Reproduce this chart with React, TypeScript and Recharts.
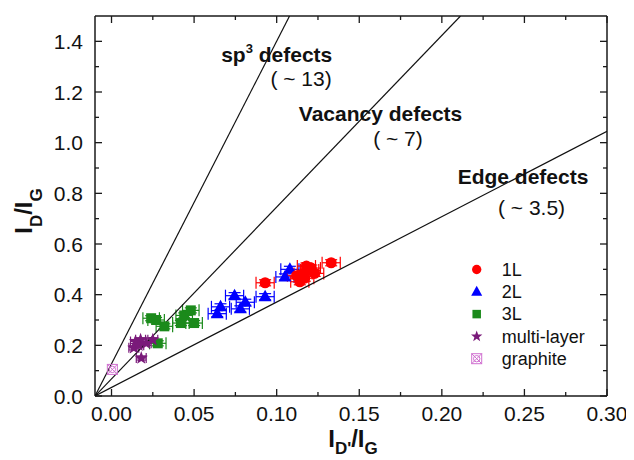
import React from 'react';
import { ScatterChart, Scatter, XAxis, YAxis, ErrorBar, Legend } from 'recharts';

const FONT = '"Liberation Sans", Arial, Helvetica, sans-serif';

// ---- data ----
const L1_X = [0.093, 0.133, 0.118, 0.12, 0.123, 0.116, 0.114, 0.112, 0.121, 0.117];
const L1_Y = [0.447, 0.526, 0.513, 0.497, 0.484, 0.484, 0.451, 0.475, 0.505, 0.465];
const L2_X = [0.108, 0.105, 0.093, 0.0745, 0.081, 0.078, 0.066, 0.064];
const L2_Y = [0.5, 0.47, 0.392, 0.396, 0.37, 0.344, 0.352, 0.325];
const L3_X = [0.024, 0.027, 0.032, 0.028, 0.042, 0.044, 0.048, 0.05];
const L3_Y = [0.307, 0.3, 0.275, 0.208, 0.288, 0.318, 0.338, 0.288];
const ML_X = [0.0145, 0.0176, 0.021, 0.025, 0.0135, 0.018, 0.0165];
const ML_Y = [0.215, 0.222, 0.208, 0.222, 0.19, 0.15, 0.2];
const GR_X = [0.0005];
const GR_Y = [0.105];

const L1_ERR = [0.0055, 0.012];
const L2_ERR = [0.0055, 0.012];
const L3_ERR = [0.005, 0.01];
const ML_ERR = [0.003, 0.008];

// reference lines (start / end points)
const SP3_X = [-0.01, 0.1078];
const SP3_Y = [0, 1.5];
const VAC_X = [-0.01, 0.2113];
const VAC_Y = [0, 1.5];
const EDGE_X = [-0.01, 0.3];
const EDGE_Y = [0, 1.045];

// annotations
const ANNO_TEXT = ['sp3 defects', '( ~ 13)', 'Vacancy defects', '( ~ 7)', 'Edge defects', '( ~ 3.5)'];
const ANNO_X = [0.0664, 0.0962, 0.1134, 0.1584, 0.2096, 0.234];
const ANNO_Y = [1.32, 1.224, 1.087, 0.987, 0.836, 0.715];

// ticks
const X_MAJOR = [0, 0.05, 0.1, 0.15, 0.2, 0.25, 0.3];
const X_LABELS = ['0.00', '0.05', '0.10', '0.15', '0.20', '0.25', '0.30'];
const X_MINOR = [0.025, 0.075, 0.125, 0.175, 0.225, 0.275];
const Y_MAJOR = [0, 0.2, 0.4, 0.6, 0.8, 1.0, 1.2, 1.4];
const Y_LABELS = ['0.0', '0.2', '0.4', '0.6', '0.8', '1.0', '1.2', '1.4'];
const Y_MINOR = [0.1, 0.3, 0.5, 0.7, 0.9, 1.1, 1.3];

const LEGEND_LABELS = ['1L', '2L', '3L', 'multi-layer', 'graphite'];

// ---- helpers ----
const pts = (xs: number[], ys: number[], err?: number[]) =>
  xs.map((x, i) => ({ x, y: ys[i], ex: err ? err[0] : 0, ey: err ? err[1] : 0 }));

const X_TICKS = [...X_MAJOR, ...X_MINOR].sort((a, b) => a - b);
const Y_TICKS = [...Y_MAJOR, ...Y_MINOR].sort((a, b) => a - b);
const majorIdx = (v: number, arr: number[]) => arr.findIndex((m) => Math.abs(m - v) < 1e-9);

const C_RED = '#ff0000';
const C_BLUE = '#0000ff';
const C_GREEN = '#1b8a1b';
const C_PURPLE = '#7a1a7a';
const C_GRAPH = '#d070d0';
const AX = '#1a1a1a';

function starPath(cx: number, cy: number, R: number, r: number) {
  let d = '';
  for (let i = 0; i < 10; i++) {
    const a = -Math.PI / 2 + (i * Math.PI) / 5;
    const rad = i % 2 === 0 ? R : r;
    d += (i === 0 ? 'M' : 'L') + (cx + rad * Math.cos(a)).toFixed(2) + ',' + (cy + rad * Math.sin(a)).toFixed(2);
  }
  return d + 'Z';
}

const Marker = ({ kind, cx, cy, s = 1 }: { kind: number; cx: number; cy: number; s?: number }) => {
  if (kind === 0) return <circle cx={cx} cy={cy} r={5.5 * s} fill={C_RED} />;
  if (kind === 1)
    return (
      <polygon
        points={`${cx},${cy - 7 * s} ${cx - 6.5 * s},${cy + 4.5 * s} ${cx + 6.5 * s},${cy + 4.5 * s}`}
        fill={C_BLUE}
      />
    );
  if (kind === 2) return <rect x={cx - 5 * s} y={cy - 5 * s} width={10 * s} height={10 * s} fill={C_GREEN} />;
  if (kind === 3) return <path d={starPath(cx, cy, 7 * s, 2.9 * s)} fill={C_PURPLE} />;
  return (
    <g stroke={C_GRAPH} strokeWidth={1} fill="none">
      <rect x={cx - 5} y={cy - 5} width={10} height={10} />
      <line x1={cx - 5} y1={cy - 5} x2={cx + 5} y2={cy + 5} />
      <line x1={cx + 5} y1={cy - 5} x2={cx - 5} y2={cy + 5} />
      <circle cx={cx} cy={cy} r={3.2} />
    </g>
  );
};

const shapeOf = (kind: number) => (p: any) => <Marker kind={kind} cx={p.cx} cy={p.cy} />;

// custom ticks (inward tick marks)
const XTick = (p: any) => {
  const { x, y, payload, side } = p;
  const v = payload.value;
  const mi = majorIdx(v, X_MAJOR);
  const len = mi >= 0 ? 7 : 4;
  const dir = side === 'bottom' ? -1 : 1;
  return (
    <g>
      <line x1={x} x2={x} y1={y} y2={y + dir * len} stroke={AX} strokeWidth={1.3} />
      {side === 'bottom' && mi >= 0 && (
        <text x={x} y={y + 25} textAnchor="middle" fontSize={21} fontFamily={FONT} fill="#111">
          {X_LABELS[mi]}
        </text>
      )}
    </g>
  );
};

const YTick = (p: any) => {
  const { x, y, payload, side } = p;
  const v = payload.value;
  const mi = majorIdx(v, Y_MAJOR);
  const len = mi >= 0 ? 7 : 4;
  const dir = side === 'left' ? 1 : -1;
  return (
    <g>
      <line x1={x} x2={x + dir * len} y1={y} y2={y} stroke={AX} strokeWidth={1.3} />
      {side === 'left' && mi >= 0 && (
        <text x={x - 12} y={y + 7.5} textAnchor="end" fontSize={21} fontFamily={FONT} fill="#111">
          {Y_LABELS[mi]}
        </text>
      )}
    </g>
  );
};

const XTitle = (p: any) => {
  const vb = p.viewBox || { x: 87, y: 388, width: 512, height: 64 };
  return (
    <text x={vb.x + vb.width / 2 + 2} y={vb.y + 51} textAnchor="middle" fontFamily={FONT} fontWeight="bold" fontSize={24} fill="#111">
      <tspan>I</tspan>
      <tspan fontSize={17} dy={7}>D'</tspan>
      <tspan dy={-7}>/I</tspan>
      <tspan fontSize={17} dy={7}>G</tspan>
    </text>
  );
};

const YTitle = (p: any) => {
  const vb = p.viewBox || { x: 0, y: 8, width: 87, height: 380 };
  const cx = vb.x + 24;
  const cy = vb.y + vb.height / 2 + 5;
  return (
    <text x={cx} y={cy} transform={`rotate(-90, ${cx}, ${cy})`} textAnchor="middle" fontFamily={FONT} fontWeight="bold" fontSize={24} fill="#111">
      <tspan>I</tspan>
      <tspan fontSize={17} dy={10}>D</tspan>
      <tspan dy={-10}>/I</tspan>
      <tspan fontSize={17} dy={10}>G</tspan>
    </text>
  );
};

const Anno = (p: any) => {
  const t: string = p.payload.label;
  const bold = !t.startsWith('(');
  if (t.startsWith('sp3')) {
    return (
      <text x={p.cx} y={p.cy} fontFamily={FONT} fontWeight="bold" fontSize={21} fill="#111">
        <tspan>sp</tspan>
        <tspan fontSize={13} dy={-9}>3</tspan>
        <tspan dy={9}>{t.slice(3)}</tspan>
      </text>
    );
  }
  return (
    <text x={p.cx} y={p.cy} fontFamily={FONT} fontWeight={bold ? 'bold' : 'normal'} fontSize={21} fill="#111">
      {t}
    </text>
  );
};

const LegendBox = () => (
  <svg width={170} height={115} style={{ display: 'block' }}>
    {LEGEND_LABELS.map((l, i) => {
      const cy = 11.5 + i * 22.3;
      return (
        <g key={l}>
          <Marker kind={i} cx={10.7} cy={cy} s={0.85} />
          <text x={35.7} y={cy + 6.3} fontFamily={FONT} fontSize={18} fill="#111">
            {l}
          </text>
        </g>
      );
    })}
  </svg>
);

const AXIS_LINE = { stroke: AX, strokeWidth: 1.5 };

export default function App() {
  const d1 = pts(L1_X, L1_Y, L1_ERR);
  const d2 = pts(L2_X, L2_Y, L2_ERR);
  const d3 = pts(L3_X, L3_Y, L3_ERR);
  const dm = pts(ML_X, ML_Y, ML_ERR);
  const dg = pts(GR_X, GR_Y);
  const anno = ANNO_TEXT.map((label, i) => ({ x: ANNO_X[i], y: ANNO_Y[i], label }));
  const lines = [pts(SP3_X, SP3_Y), pts(VAC_X, VAC_Y), pts(EDGE_X, EDGE_Y)];
  return (
    <div style={{ width: 626, height: 452, position: 'relative' }}>
      <ScatterChart width={626} height={452} margin={{ top: 7, right: 26, bottom: 0, left: 0 }}>
        <XAxis xAxisId="b" orientation="bottom" type="number" dataKey="x" domain={[-0.01, 0.3]} allowDataOverflow ticks={X_TICKS} interval={0} tickSize={0} tickMargin={0} tickLine={false} axisLine={AXIS_LINE} height={64} tick={(p: any) => <XTick {...p} side="bottom" />} label={{ content: XTitle }} />
        <XAxis xAxisId="t" orientation="top" type="number" dataKey="x" domain={[-0.01, 0.3]} allowDataOverflow ticks={X_TICKS} interval={0} tickSize={0} tickMargin={0} tickLine={false} axisLine={AXIS_LINE} height={1} tick={(p: any) => <XTick {...p} side="top" />} />
        <YAxis yAxisId="l" orientation="left" type="number" dataKey="y" domain={[0, 1.5]} allowDataOverflow ticks={Y_TICKS} interval={0} tickSize={0} tickMargin={0} tickLine={false} axisLine={AXIS_LINE} width={87} tick={(p: any) => <YTick {...p} side="left" />} label={{ content: YTitle }} />
        <YAxis yAxisId="r" orientation="right" type="number" dataKey="y" domain={[0, 1.5]} allowDataOverflow ticks={Y_TICKS} interval={0} tickSize={0} tickMargin={0} tickLine={false} axisLine={AXIS_LINE} width={1} tick={(p: any) => <YTick {...p} side="right" />} />

        {lines.map((ld, i) => (
          <Scatter key={'ln' + i} xAxisId="b" yAxisId="l" data={ld} fill="none" stroke="#111" line={{ stroke: '#111', strokeWidth: 1.2 }} shape={() => <g />} isAnimationActive={false} />
        ))}

        <Scatter name="graphite" xAxisId="b" yAxisId="l" data={dg} shape={shapeOf(4)} isAnimationActive={false} />
        <Scatter name="3L" xAxisId="b" yAxisId="l" data={d3} fill={C_GREEN} shape={shapeOf(2)} isAnimationActive={false}>
          <ErrorBar dataKey="ex" direction="x" width={6} stroke={C_GREEN} strokeWidth={1.2} />
          <ErrorBar dataKey="ey" direction="y" width={6} stroke={C_GREEN} strokeWidth={1.2} />
        </Scatter>
        <Scatter name="multi-layer" xAxisId="b" yAxisId="l" data={dm} fill={C_PURPLE} shape={shapeOf(3)} isAnimationActive={false}>
          <ErrorBar dataKey="ex" direction="x" width={5} stroke={C_PURPLE} strokeWidth={1.2} />
          <ErrorBar dataKey="ey" direction="y" width={5} stroke={C_PURPLE} strokeWidth={1.2} />
        </Scatter>
        <Scatter name="2L" xAxisId="b" yAxisId="l" data={d2} fill={C_BLUE} shape={shapeOf(1)} isAnimationActive={false}>
          <ErrorBar dataKey="ex" direction="x" width={6} stroke={C_BLUE} strokeWidth={1.2} />
          <ErrorBar dataKey="ey" direction="y" width={6} stroke={C_BLUE} strokeWidth={1.2} />
        </Scatter>
        <Scatter name="1L" xAxisId="b" yAxisId="l" data={d1} fill={C_RED} shape={shapeOf(0)} isAnimationActive={false}>
          <ErrorBar dataKey="ex" direction="x" width={6} stroke={C_RED} strokeWidth={1.2} />
          <ErrorBar dataKey="ey" direction="y" width={6} stroke={C_RED} strokeWidth={1.2} />
        </Scatter>

        <Scatter xAxisId="t" yAxisId="r" data={anno} shape={Anno} isAnimationActive={false} />

        <Legend layout="vertical" align="center" verticalAlign="middle" wrapperStyle={{ position: 'absolute', left: 458, top: 250, width: 170, height: 115 }} content={() => <LegendBox />} />
      </ScatterChart>
    </div>
  );
}
